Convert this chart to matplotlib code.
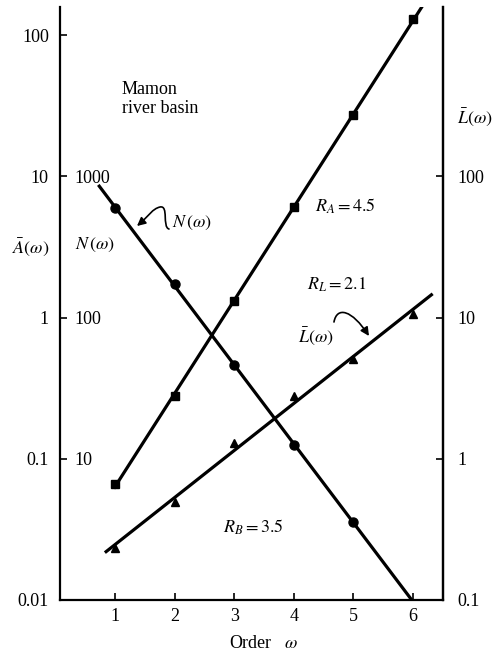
import matplotlib
matplotlib.use("Agg")
import matplotlib.pyplot as plt
import numpy as np
from matplotlib.path import Path
from matplotlib.patches import FancyArrowPatch

plt.rcParams['font.family'] = ['Liberation Serif', 'DejaVu Serif']
plt.rcParams['mathtext.fontset'] = 'stix'

# Mamon river basin, Horton ratios
order = [1, 2, 3, 4, 5, 6]
area = [0.066, 0.28, 1.30, 6.1, 27.0, 130.0]        # A(w), left outer axis
order_n = [1, 2, 3, 4, 5]
number = [596, 173, 46, 12.5, 3.56]               # N(w), left inner axis
length = [0.233, 0.494, 1.29, 2.8, 5.08, 10.6]    # L(w), right axis

a_ticks = [0.01, 0.1, 1, 10, 100]
a_labels = ['0.01', '0.1', '1', '10', '100']
n_ticks = [10, 100, 1000]
n_labels = ['10', '100', '1000']
l_ticks = [0.1, 1, 10, 100]
l_labels = ['0.1', '1', '10', '100']

fig = plt.figure(figsize=(4.95, 6.57), dpi=100)
ax = fig.add_axes([0.1212, 0.0868, 0.7737, 0.9025])
ax.set_yscale('log')
ax.set_xlim(0.077, 6.503)
ylo, yhi = 0.01, 158.0
ax.set_ylim(ylo, yhi)

# N(w) axis sits on the left spine, labels to its right
axn = ax.twinx()
axn.set_yscale('log')
axn.set_ylim(ylo * 100, yhi * 100)
axn.spines['right'].set_position(('axes', 0))
axn.spines['right'].set_visible(False)
axn.yaxis.tick_right()
axn.set_yticks(n_ticks)
axn.set_yticklabels(n_labels)
axn.yaxis.set_minor_locator(matplotlib.ticker.NullLocator())
axn.tick_params(axis='y', length=0, pad=14 / 1.389, labelsize=13)

# L(w) axis on the right
axl = ax.twinx()
axl.set_yscale('log')
axl.set_ylim(ylo * 10, yhi * 10)
axl.set_yticks(l_ticks)
axl.set_yticklabels(l_labels)
axl.yaxis.set_minor_locator(matplotlib.ticker.NullLocator())
axl.tick_params(axis='y', direction='in', length=5, width=1.2, pad=14 / 1.389, labelsize=13)

for a in (ax, axn, axl):
    a.spines['top'].set_visible(False)
    for s in a.spines.values():
        s.set_linewidth(1.6)
axl.spines['left'].set_visible(False)
axn.spines['left'].set_visible(False)
axn.spines['bottom'].set_visible(False)
axl.spines['bottom'].set_visible(False)

ax.set_yticks(a_ticks)
ax.set_yticklabels(a_labels)
ax.yaxis.set_minor_locator(matplotlib.ticker.NullLocator())
ax.set_xticks(order)
ax.tick_params(axis='y', direction='in', length=5, width=1.2, pad=8, labelsize=13, right=False)
ax.tick_params(axis='x', direction='in', length=5, width=1.2, pad=6, labelsize=13, top=False)

lc = 'black'
# fitted lines
def fit_line(xs, ys, x0, x1):
    k, b = np.polyfit(xs, np.log10(ys), 1)
    xx = np.array([x0, x1])
    return xx, 10 ** (k * xx + b)

xx, yy = fit_line(order, area, 0.98, 6.2)
ax.plot(xx, yy, color=lc, lw=2.3, solid_capstyle='butt')
ax.plot(order, area, 's', color=lc, ms=6)

xx, yy = fit_line(order_n, number, 0.72, 6.1)
axn.plot(xx, yy, color=lc, lw=2.3, solid_capstyle='butt', clip_on=True)
axn.plot(order_n, number, 'o', color=lc, ms=6.5)

xx, yy = fit_line(order, length, 0.83, 6.33)
axl.plot(xx, yy, color=lc, lw=2.3, solid_capstyle='butt')
axl.plot(order, length, '^', color=lc, ms=5.5)

# texts (axes fraction from the left/bottom spine)
def fx(px):
    return (px - 60) / 383.0

def fy(py):
    return (600 - py) / 593.0

T = ax.transAxes
fs = 13
ax.text(fx(122), fy(99), 'Mamon\nriver basin', transform=T, fontsize=fs,
        ha='left', va='center', linespacing=1.15)
ax.text(fx(315), fy(206), r'$R_A = 4.5$', transform=T, fontsize=fs, ha='left', va='center')
ax.text(fx(307), fy(285), r'$R_L = 2.1$', transform=T, fontsize=fs, ha='left', va='center')
ax.text(fx(223), fy(527), r'$R_B = 3.5$', transform=T, fontsize=fs, ha='left', va='center')
ax.text(fx(172), fy(223), r'$N\,(\omega)$', transform=T, fontsize=fs, ha='left', va='center')
ax.text(fx(298), fy(336), r'$\bar{L}(\omega)$', transform=T, fontsize=fs, ha='left', va='center')

ax.text(fx(31), fy(247), r'$\bar{A}(\omega)$', transform=T, fontsize=fs, ha='center', va='center')
ax.text(fx(75), fy(245), r'$N\,(\omega)$', transform=T, fontsize=fs, ha='left', va='center')
ax.text(fx(457), fy(117), r'$\bar{L}(\omega)$', transform=T, fontsize=fs, ha='left', va='center')
ax.text(fx(264), fy(644), r'Order   $\omega$', transform=T, fontsize=fs, ha='center', va='center')

# squiggly arrow to N line
pts = [(169, 229), (162, 227), (169, 205), (160, 207), (152, 209), (150, 215), (137, 226)]
verts = [(fx(p[0]), fy(p[1])) for p in pts]
codes = [Path.MOVETO] + [Path.CURVE4] * 6
arr = FancyArrowPatch(path=Path(verts, codes), arrowstyle='-|>,head_length=5,head_width=2.5',
                      color=lc, lw=1.2, transform=T)
ax.add_patch(arr)

pts = [(334, 322), (337, 306), (352, 310), (369, 336)]
verts = [(fx(p[0]), fy(p[1])) for p in pts]
codes = [Path.MOVETO] + [Path.CURVE4] * 3
arr = FancyArrowPatch(path=Path(verts, codes), arrowstyle='-|>,head_length=5,head_width=2.5',
                      color=lc, lw=1.2, transform=T)
ax.add_patch(arr)

fig.savefig('out.png', dpi=100)
